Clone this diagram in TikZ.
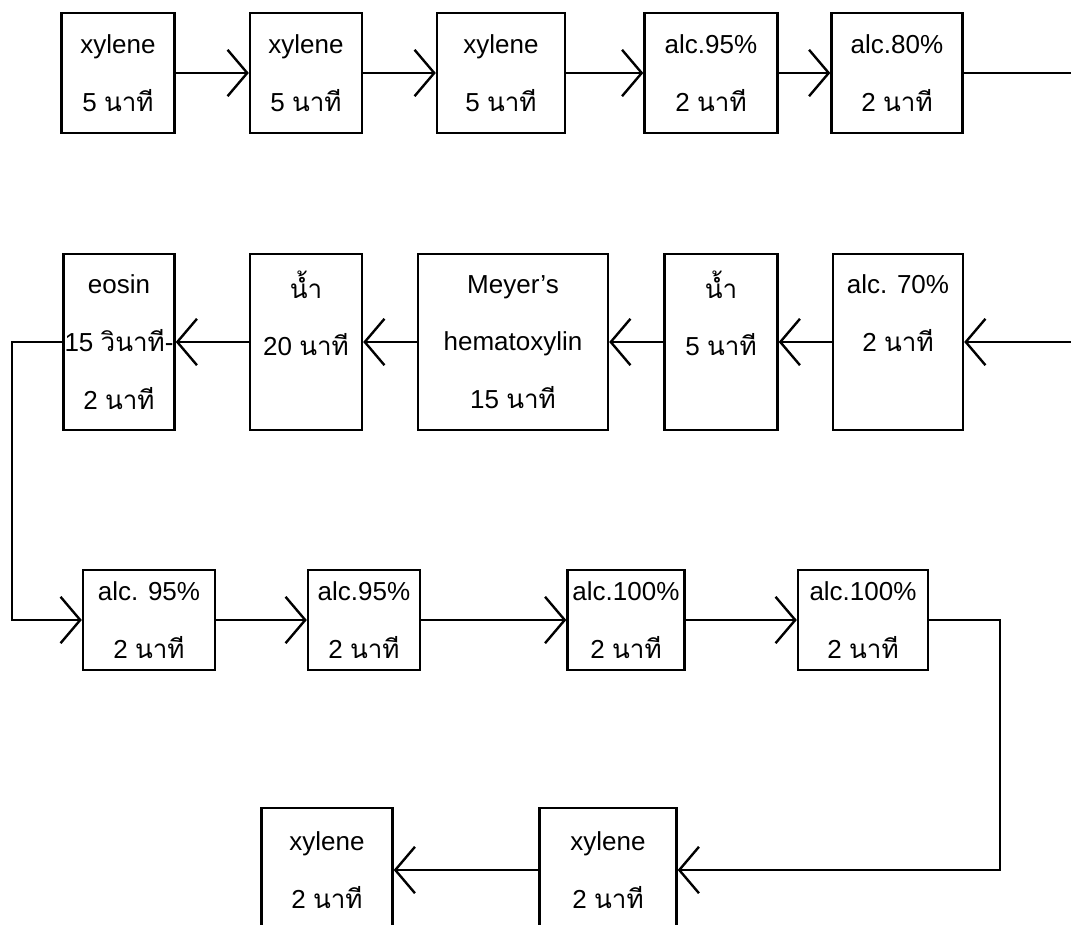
\documentclass[tikz,border=0pt]{standalone}
\usepackage{fontspec}
\setmainfont{Liberation Sans}
\newfontfamily\thaifont[Script=Thai]{Loma}
\usetikzlibrary{arrows.meta, positioning}
\newcommand{\thai}[1]{{\thaifont #1}}
\newcommand{\px}{0.025cm}

\begin{document}
\begin{tikzpicture}[x=\px, y=-\px, line width=1.7pt,
    font=\fontsize{18.5}{41}\selectfont,
    >={Straight Barb[length=14pt, width=33pt]},
    stage/.style={draw, align=center, inner sep=0pt},
    rowa/.style={stage, minimum height=120*\px},
    rowb/.style={stage, minimum height=176*\px},
    rowc/.style={stage, minimum height=100*\px},
    rowd/.style={stage, minimum height=124*\px}]
    \useasboundingbox (0,0) rectangle (1071,925);
    \clip (0,0) rectangle (1071,925);

    % first row
    \node[rowa, minimum width=113*\px] (xa) at (118,73) {xylene\\5 \thai{นาที}};
    \node[rowa, minimum width=112*\px] (xb) at (306,73) {xylene\\5 \thai{นาที}};
    \node[rowa, minimum width=128*\px] (xc) at (501,73) {xylene\\5 \thai{นาที}};
    \node[rowa, minimum width=133*\px] (aa) at (711,73) {alc.95\%\\2 \thai{นาที}};
    \node[rowa, minimum width=131*\px] (ab) at (897,73) {alc.80\%\\2 \thai{นาที}};
    \coordinate (rowaend) at (1071,73);

    \draw[->] (xa.east) -- (xb.west);
    \draw[->] (xb.east) -- (xc.west);
    \draw[->] (xc.east) -- (aa.west);
    \draw[->] (aa.east) -- (ab.west);
    \draw (ab.east) -- (rowaend);

    % second row
    \node[rowb, minimum width=111*\px] (eosin) at (119,342) {eosin\\15 \thai{วินาที}-\\2 \thai{นาที}};
    \node[rowb, minimum width=112*\px] (wa) at (306,342) {\thai{น้ำ}\\20 \thai{นาที}\\~};
    \node[rowb, minimum width=190*\px] (meyer) at (513,342) {Meyer’s\\hematoxylin\\15 \thai{นาที}};
    \node[rowb, minimum width=113*\px] (wb) at (721,342) {\thai{น้ำ}\\5 \thai{นาที}\\~};
    \node[rowb, minimum width=130*\px] (ac) at (898,342) {alc. 70\%\\2 \thai{นาที}\\~};
    \coordinate (rowbstart) at (1071,342);

    \draw[->] (rowbstart) -- (ac.east);
    \draw[->] (ac.west) -- (wb.east);
    \draw[->] (wb.west) -- (meyer.east);
    \draw[->] (meyer.west) -- (wa.east);
    \draw[->] (wa.west) -- (eosin.east);

    % third row
    \node[rowc, minimum width=132*\px] (ad) at (149,620) {alc. 95\%\\2 \thai{นาที}};
    \node[rowc, minimum width=112*\px] (ae) at (364,620) {alc.95\%\\2 \thai{นาที}};
    \node[rowc, minimum width=117*\px] (af) at (626,620) {alc.100\%\\2 \thai{นาที}};
    \node[rowc, minimum width=130*\px] (ag) at (863,620) {alc.100\%\\2 \thai{นาที}};
    \coordinate (turnl) at (12,0);
    \coordinate (turnr) at (1000,0);

    \draw[->] (eosin.west) -- (turnl |- eosin.west) -- (turnl |- ad.west) -- (ad.west);
    \draw[->] (ad.east) -- (ae.west);
    \draw[->] (ae.east) -- (af.west);
    \draw[->] (af.east) -- (ag.west);

    % last row
    \node[rowd, minimum width=131*\px] (xd) at (327,870) {xylene\\2 \thai{นาที}};
    \node[rowd, minimum width=137*\px] (xe) at (608,870) {xylene\\2 \thai{นาที}};

    \draw[->] (ag.east) -- (turnr |- ag.east) -- (turnr |- xe.east) -- (xe.east);
    \draw[->] (xe.west) -- (xd.east);
\end{tikzpicture}
\end{document}
